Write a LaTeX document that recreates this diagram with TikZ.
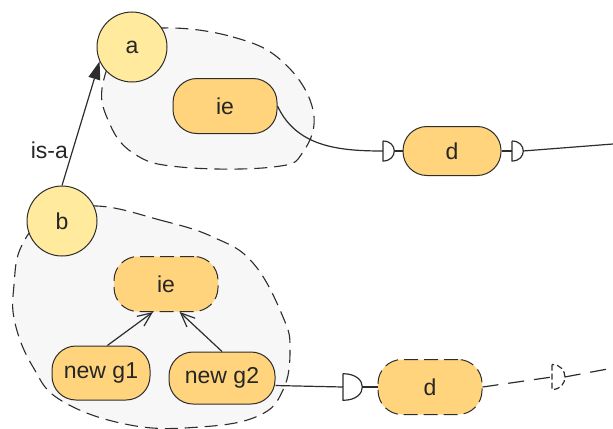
\documentclass[tikz,border=0pt]{standalone}
\usepackage{fontspec}
\setmainfont{Liberation Sans}
\usepackage{xcolor}
\usetikzlibrary{arrows.meta}
\definecolor{classyellow}{RGB}{255,234,158}
\definecolor{partorange}{RGB}{255,212,125}
\definecolor{linegray}{RGB}{45,45,45}
\definecolor{blobgray}{RGB}{247,247,247}

% half-round port symbol, flat side to the left
\tikzset{plug/.pic={
    \coordinate (-in) at (0,0);
    \coordinate (-out) at (11,0);
    \draw[pic actions] (0,-10) -- (0,10) .. controls (15,10) and (15,-10) .. (0,-10);
}}

\begin{document}
\begin{tikzpicture}[x=0.5pt, y=-0.5pt,
    font=\fontsize{11.5}{13}\selectfont,
    classnode/.style={circle, draw=linegray, line width=0.5pt, fill=classyellow,
        minimum size=35pt, inner sep=0pt, text=black!85},
    partnode/.style={rectangle, rounded corners=12pt, draw=linegray, line width=0.5pt,
        fill=partorange, minimum width=52pt, minimum height=27.5pt, inner sep=0pt, text=black!85},
    dashnode/.style={dash pattern=on 7pt off 3pt},
    blob/.style={draw=linegray, line width=0.55pt, fill=blobgray, dash pattern=on 6.5pt off 3.5pt},
    wire/.style={draw=linegray, line width=0.6pt},
    dashwire/.style={wire, dash pattern=on 8pt off 5pt}]
    \useasboundingbox (0,0) rectangle (613,428);

    % Containers
    \path[blob] plot[smooth cycle, tension=0.7] coordinates {(163,28) (233,37) (283,62) (313,110)
        (303,152) (273,167) (180,167) (133,153) (108,120) (103,83) (125,40)};
    \path[blob] plot[smooth cycle, tension=0.7] coordinates {(97,206) (160,220) (213,237) (253,263)
        (283,317) (290,350) (283,390) (258,416) (200,427) (130,425) (62,401) (33,367)
        (15,323) (14,285) (22,245) (50,215)};

    % Ports
    \pic[wire] (p1) at (383,151) {plug};
    \pic[wire] (p4) at (512,151) {plug};
    \pic[wire, xscale=1.72, yscale=1.33] (p2) at (343,387) {plug};
    \pic[wire, dash pattern=on 3pt off 1.5pt, xscale=1.15, yscale=1.25] (p3) at (552,377) {plug};
    \coordinate (rim1) at (613,144);
    \coordinate (rim2) at (613,368);

    % Classes
    \node[classnode] (a) at (132,47) {a};
    \node[classnode] (b) at (62,221) {b};

    % Parts
    \node[partnode] (ie1) at (225,106) {ie};
    \node[partnode, minimum width=49pt, minimum height=24.5pt] (d1) at (452,151) {d};
    \node[partnode, dashnode] (ie2) at (166,284) {ie};
    \node[partnode, minimum width=49pt, minimum height=27pt] (g1) at (101,373) {new g1};
    \node[partnode, minimum width=53pt, minimum height=26pt] (g2) at (222,378) {new g2};
    \node[partnode, dashnode] (d2) at (430,387) {d};

    % Generalization
    \draw[wire, -{Triangle[length=9pt, width=6pt]}] (b.north) -- (a.204)
        node[pos=0.28, left, inner sep=2pt, text=black!85] {is-a};

    % Connections
    \draw[wire] (ie1.east) to[out=-65, in=180] (p1-in);
    \draw[wire] (p1-out) -- (d1.west);
    \draw[wire] (d1.east) -- (p4-in);
    \draw[wire] (p4-out) -- (rim1);
    \draw[wire] (g2.-8) -- (p2-in);
    \draw[wire] (p2-out) -- (d2.west);
    \draw[dashwire] (d2.east) -- (p3-in);
    \draw[dashwire] (p3-out) -- (rim2);

    % Redefinitions
    \draw[wire, -{Straight Barb[length=7pt, width=6pt]}] (g1.77) -- (ie2.245);
    \draw[wire, -{Straight Barb[length=7pt, width=6pt]}] (g2.north) -- (ie2.296);
\end{tikzpicture}
\end{document}
